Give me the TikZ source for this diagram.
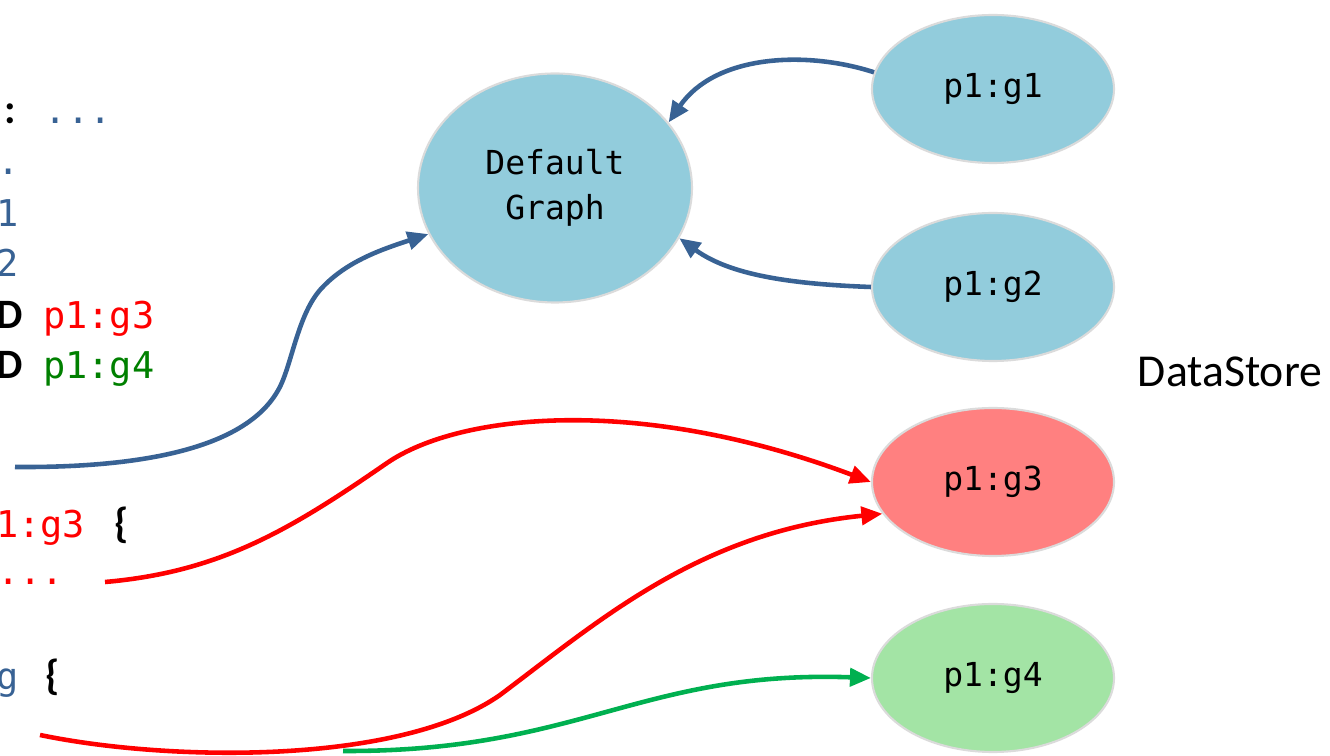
\documentclass[tikz,border=0pt]{standalone}
\usepackage{fontspec}
\setmainfont{Carlito}
\setmonofont{DejaVu Sans Mono}
\usetikzlibrary{arrows.meta,shapes.geometric}
\definecolor{qblue}{RGB}{56,98,148}
\definecolor{gblue}{RGB}{146,204,220}
\definecolor{gred}{RGB}{255,128,128}
\definecolor{ggreen}{RGB}{163,228,165}
\definecolor{lgreen}{RGB}{0,176,80}
\definecolor{tgreen}{RGB}{0,128,0}
\tikzset{
    graphnode/.style={ellipse, draw=black!14, line width=1.2pt, minimum width=4.84cm, minimum height=2.96cm, inner sep=0pt, font=\fontsize{18.8}{25.5}\ttfamily},
    code/.style={anchor=base west, inner sep=0pt, font=\fontsize{21}{25}\ttfamily},
    kw/.style={anchor=base west, inner sep=0pt, font=\fontsize{23.8}{28}\selectfont\bfseries},
    link/.style={line width=2.6pt, -{Triangle[length=0.42cm,width=0.36cm]}}
}
\begin{document}
\begin{tikzpicture}
                \useasboundingbox (0,0) rectangle (26.6,15.12);
                \clip (0,0) rectangle (26.6,15.12);
                \node [kw] (k1) at (0.09,12.64) {:};
                \node [code, text=qblue] (q1) at (0.89,12.64) {...};
                \node [code, text=qblue] (q2) at (-0.06,11.62) {.};
                \node [code, text=qblue] (q3) at (-0.08,10.58) {1};
                \node [code, text=qblue] (q4) at (-0.08,9.58) {2};
                \node [kw] (k5) at (-0.08,8.54) {D};
                \node [code, text=red] (q5) at (0.86,8.54) {p1:g3};
                \node [kw] (k6) at (-0.08,7.54) {D};
                \node [code, text=tgreen] (q6) at (0.86,7.54) {p1:g4};
                \node [code, text=red] (q7) at (-0.08,4.36) {1:g3};
                \node [kw] (k7) at (2.29,4.36) {\{};
                \node [code, text=red] (q8) at (-0.06,3.42) {...};
                \node [code, text=qblue] (q9) at (-0.08,1.32) {g};
                \node [kw] (k9) at (0.91,1.32) {\{};
                \node [graphnode, fill=gblue, minimum width=5.48cm, minimum height=4.58cm, align=center] (dg) at (11.1,11.36) {Default\\Graph};
                \node [graphnode, fill=gblue] (g1) at (19.86,13.34) {p1:g1};
                \node [graphnode, fill=gblue] (g2) at (19.86,9.38) {p1:g2};
                \node [graphnode, fill=gred] (g3) at (19.86,5.48) {p1:g3};
                \node [graphnode, fill=ggreen] (g4) at (19.86,1.56) {p1:g4};
                \node [anchor=base, font=\fontsize{26}{30}\selectfont] (ds) at (24.6,7.38) {DataStore};
                \coordinate (bs) at (0.3,5.78);
                \coordinate (r1) at (2.1,3.48);
                \coordinate (r2) at (0.8,0.42);
                \coordinate (gs) at (6.86,0.1);
                \draw [link, qblue] (g1.172) .. controls (16.1,14.12) and (14.3,14.02) .. (dg.30);
                \draw [link, qblue] (g2.west) .. controls (15.8,9.44) and (14.6,9.62) .. (dg.-22);
                \draw [link, qblue] (bs) .. controls (3.0,5.76) and (5.14,6.2) .. (5.66,7.52) .. controls (5.86,8.02) and (6.0,8.86) .. (6.4,9.32) .. controls (6.9,9.88) and (7.6,10.12) .. (dg.200);
                \draw [link, red] (r1) .. controls (4.4,3.68) and (5.8,4.52) .. (7.74,5.86) .. controls (9.2,6.86) and (12.8,7.22) .. (g3.west);
                \draw [link, red] (r2) .. controls (3.4,-0.12) and (8.0,-0.18) .. (10.0,1.22) .. controls (12.0,2.72) and (14.0,4.48) .. (g3.196);
                \draw [link, lgreen] (gs) .. controls (11.6,0.08) and (12.8,1.72) .. (g4.west);
            \end{tikzpicture}
\end{document}
